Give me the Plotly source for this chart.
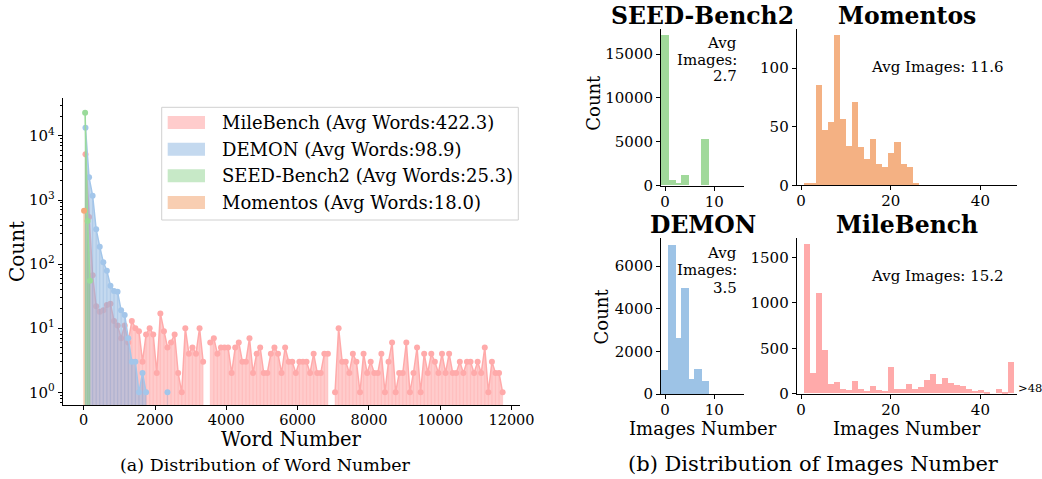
import plotly.graph_objects as go

W, H = 1042, 479
FONT = "DejaVu Serif"

# ---------------- (a) distribution of word number ----------------
WORD_BIN_CENTERS = list(range(50, 11800, 100))  # 118 bins, 100 words wide
MILE_COUNTS = [5160, 543, 67, 22, 18, 19, 23, 24, 13, 11,
               7, 11, 6, 13, 10, 9, 3, 8, 10, 8,
               2, 17, 9, 5, 6, 8, 2, 1, 10, 4,
               5, 4, 10, 3, 0,
               6, 7, 4, 5, 5, 5, 2, 5, 6, 3,
               3, 7, 2, 4, 5, 2, 2, 4, 5, 4,
               2, 5, 3, 3, 2, 3, 3, 3, 2, 4,
               2, 2, 4, 4, 0,
               1, 10, 3, 3, 2, 4, 3,
               1, 4, 2, 3, 2, 2, 4, 1, 3, 6,
               1, 2, 2, 6, 1, 2, 5, 1, 4, 2,
               4, 3, 2, 4, 2, 4, 2, 2, 3, 2,
               3, 3, 2, 3, 2, 5, 1, 3, 2, 2, 1]
DEMON_COUNTS = [13400, 2260, 1167, 349, 187, 107, 79, 46, 38, 37,
                19, 16, 7, 3, 3, 1, 2, 1, 0, 0, 0, 0, 0, 1]
SEED_WORDS = [40, 110, 175]
SEED_COUNTS = [23000, 470, 55]
MOM_WORDS = [10]
MOM_COUNTS = [683]

LEGEND_LABELS = ["MileBench (Avg Words:422.3)", "DEMON (Avg Words:98.9)",
                 "SEED-Bench2 (Avg Words:25.3)", "Momentos (Avg Words:18.0)"]

X_TICKS_WORDS = [0, 2000, 4000, 6000, 8000, 10000, 12000]
LOG_EXPONENTS = [0, 1, 2, 3, 4]

# ---------------- (b) distribution of images number ----------------
SEED_IMG_LEFT = [-0.8, 0.8, 2.2, 3.2, 7.3]
SEED_IMG_RIGHT = [0.8, 2.2, 3.2, 4.8, 8.9]
SEED_IMG_COUNTS = [17100, 650, 230, 1220, 5320]

DEMON_IMG_LEFT = [-0.8, 0.55, 2.2, 3.25, 4.85, 5.95, 7.45]
DEMON_IMG_RIGHT = [0.55, 2.2, 3.25, 4.85, 5.95, 7.45, 8.9]
DEMON_IMG_COUNTS = [1125, 6985, 2625, 4970, 703, 1172, 578]

MOM_IMG_EDGE0, MOM_IMG_BW = 0.52, 1.35
MOM_IMG_COUNTS = [2, 2, 85, 47, 54, 128, 56, 33, 71, 32,
                  22, 39, 18, 15, 27, 37, 18, 15, 1]

MILE_IMG_EDGE0, MILE_IMG_BW = 0.67, 1.333
MILE_IMG_COUNTS = [1640, 228, 1100, 482, 99, 129, 51, 33, 140, 51,
                   29, 77, 40, 29, 294, 51, 51, 107, 51, 66,
                   151, 217, 107, 173, 110, 88, 77, 44, 26, 40,
                   18, 0, 51, 18, 349]

AVG_IMAGES = {"SEED-Bench2": "2.7", "Momentos": "11.6", "DEMON": "3.5", "MileBench": "15.2"}

# ---------------- styles ----------------
C_LINE = {"mile": "#FFAAAA", "demon": "#A3C6EA", "seed": "#9ADB9A", "mom": "#F5A97A"}
C_FILL = {"mile": "rgba(255,153,153,0.5)", "demon": "rgba(138,180,224,0.5)",
          "seed": "rgba(144,211,144,0.5)", "mom": "rgba(241,157,101,0.5)"}
C_VLINE = {"mile": "rgba(255,140,140,0.22)", "demon": "rgba(120,165,215,0.25)",
           "seed": "rgba(120,200,120,0.3)", "mom": "rgba(240,150,90,0.6)"}
C_BAR = {"seed": "#A1D99B", "mom": "#F4B183", "demon": "#9DC3E6", "mile": "#FFAAAA"}


def px(x):
    return x / W


def py(y):
    return 1 - y / H


fig = go.Figure()

Y_BASE = 0.3  # below the visible log range; clipped by the plot area


def add_word_series(xs, ys, key):
    segs, cur = [], []
    for x, y in zip(xs, ys):
        if y > 0:
            cur.append((x, y))
        elif cur:
            segs.append(cur)
            cur = []
    if cur:
        segs.append(cur)
    fx, fy = [], []
    for s in segs:
        if len(s) < 2:
            continue
        fx += [p[0] for p in s] + [s[-1][0], s[0][0], None]
        fy += [p[1] for p in s] + [Y_BASE, Y_BASE, None]
    if fx:
        fig.add_trace(go.Scatter(x=fx, y=fy, mode="none", fill="toself",
                                 fillcolor=C_FILL[key], hoverinfo="skip",
                                 showlegend=False, xaxis="x", yaxis="y"))
    vx, vy = [], []
    for x, y in zip(xs, ys):
        if y > 0:
            vx += [x, x, None]
            vy += [y, Y_BASE, None]
    fig.add_trace(go.Scatter(x=vx, y=vy, mode="lines",
                             line=dict(color=C_VLINE[key], width=1.2),
                             hoverinfo="skip", showlegend=False, xaxis="x", yaxis="y"))
    fig.add_trace(go.Scatter(x=xs, y=[y if y > 0 else None for y in ys],
                             mode="lines+markers", connectgaps=False,
                             line=dict(color=C_LINE[key], width=1.5),
                             marker=dict(color=C_LINE[key], size=6),
                             showlegend=False, xaxis="x", yaxis="y"))


add_word_series(WORD_BIN_CENTERS, MILE_COUNTS, "mile")
add_word_series(WORD_BIN_CENTERS[:len(DEMON_COUNTS)], DEMON_COUNTS, "demon")
add_word_series(SEED_WORDS, SEED_COUNTS, "seed")
add_word_series(MOM_WORDS, MOM_COUNTS, "mom")


def add_bars(lefts, rights, counts, key, ax):
    xs = [(l + r) / 2 for l, r in zip(lefts, rights)]
    ws = [r - l for l, r in zip(lefts, rights)]
    fig.add_trace(go.Bar(x=xs, y=counts, width=ws, marker=dict(color=C_BAR[key], line=dict(width=0)),
                         showlegend=False, xaxis="x" + ax, yaxis="y" + ax))


add_bars(SEED_IMG_LEFT, SEED_IMG_RIGHT, SEED_IMG_COUNTS, "seed", "2")
mom_l = [MOM_IMG_EDGE0 + i * MOM_IMG_BW for i in range(len(MOM_IMG_COUNTS))]
add_bars(mom_l, [l + MOM_IMG_BW for l in mom_l], MOM_IMG_COUNTS, "mom", "3")
add_bars(DEMON_IMG_LEFT, DEMON_IMG_RIGHT, DEMON_IMG_COUNTS, "demon", "4")
mile_l = [MILE_IMG_EDGE0 + i * MILE_IMG_BW for i in range(len(MILE_IMG_COUNTS))]
add_bars(mile_l, [l + MILE_IMG_BW for l in mile_l], MILE_IMG_COUNTS, "mile", "5")

axis_common = dict(showline=True, linecolor="black", linewidth=1, ticks="outside",
                   ticklen=4, tickwidth=1, tickcolor="black", showgrid=False,
                   zeroline=False, automargin=False)

fig.update_layout(
    xaxis=dict(domain=[px(62.7), px(520)], range=[-589, 12238], tickvals=X_TICKS_WORDS,
               tickformat="d", ticklabelstandoff=-3,
               tickfont=dict(size=14.5, family=FONT, color="black"),
               anchor="y", **axis_common),
    yaxis=dict(domain=[py(405.3), py(98.3)], type="log", range=[-0.203, 4.587],
               tickvals=[10 ** e for e in LOG_EXPONENTS],
               ticktext=["10<sup>%d</sup>" % e for e in LOG_EXPONENTS],
               minor=dict(ticks="outside", ticklen=2, tickcolor="black",
                          tickvals=[m * 10 ** e for e in range(-1, 5) for m in range(2, 10)]),
               tickfont=dict(size=15, family=FONT, color="black"), anchor="x", **axis_common),
)

rt = dict(size=15, family=FONT, color="black")
rx = dict(tickformat="d", tickfont=rt, ticklabelstandoff=-2, **axis_common)
ry = dict(tickformat="d", tickfont=rt, **axis_common)
fig.update_layout(
    xaxis2=dict(domain=[px(661), px(744)], range=[-0.81, 16.0], tickvals=[0, 10], anchor="y2", **rx),
    yaxis2=dict(domain=[py(185.7), py(29.3)], range=[0, 17830], tickvals=[0, 5000, 10000, 15000],
                anchor="x2", **ry),
    xaxis3=dict(domain=[px(796.7), px(1016.7)], range=[-0.96, 48.1], tickvals=[0, 20, 40],
                anchor="y3", **rx),
    yaxis3=dict(domain=[py(185.3), py(29.3)], range=[0, 133], tickvals=[0, 50, 100],
                anchor="x3", **ry),
    xaxis4=dict(domain=[px(661), px(744)], range=[-0.81, 16.0], tickvals=[0, 10], anchor="y4", **rx),
    yaxis4=dict(domain=[py(394), py(238.3)], range=[0, 7300], tickvals=[0, 2000, 4000, 6000],
                anchor="x4", **ry),
    xaxis5=dict(domain=[px(796.7), px(1016.7)], range=[-0.96, 48.1], tickvals=[0, 20, 40],
                anchor="y5", **rx),
    yaxis5=dict(domain=[py(393.7), py(238.3)], range=[0, 1711], tickvals=[0, 500, 1000, 1500],
                anchor="x5", **ry),
    bargap=0,
)

shapes = []
annotations = []


def txt(x, y, text, size, xanchor="center", yanchor="middle", bold=False, angle=0):
    if bold:
        text = "<b>%s</b>" % text
    annotations.append(dict(x=px(x), y=py(y), xref="paper", yref="paper", text=text,
                            showarrow=False, xanchor=xanchor, yanchor=yanchor, textangle=angle,
                            font=dict(size=size, family=FONT, color="black")))


shapes.append(dict(type="rect", xref="paper", yref="paper", x0=px(161.7), x1=px(518.3),
                   y0=py(220), y1=py(107.3), line=dict(color="#d0d0d0", width=1),
                   fillcolor="rgba(255,255,255,0.8)", layer="above"))
legend_rows = [122.5, 149.2, 175.7, 202.5]
for label, key, yc in zip(LEGEND_LABELS, ["mile", "demon", "seed", "mom"], legend_rows):
    shapes.append(dict(type="rect", xref="paper", yref="paper", x0=px(167.7), x1=px(205),
                       y0=py(yc + 6.5), y1=py(yc - 6.5), line=dict(width=0),
                       fillcolor=C_FILL[key], layer="above"))
    txt(220, yc, label, 18, xanchor="left")

txt(17, 252, "Count", 20, angle=-90)
txt(291, 439, "Word Number", 19.5)
txt(265, 465, "(a) Distribution of Word Number", 17.5)

txt(702.5, 16, "SEED-Bench2", 23.5, bold=True)
txt(906.7, 16, "Momentos", 23.5, bold=True)
txt(702.5, 225, "DEMON", 23.5, bold=True)
txt(906.7, 225, "MileBench", 23.5, bold=True)
txt(592.7, 103, "Count", 18, angle=-90)
txt(601.7, 316.7, "Count", 18, angle=-90)
txt(702.5, 428.5, "Images Number", 18)
txt(906.7, 428.5, "Images Number", 18)
txt(813, 464, "(b) Distribution of Images Number", 21)

for yc, t in zip([43.5, 60, 76], ["Avg", "Images:", AVG_IMAGES["SEED-Bench2"]]):
    txt(739, yc, t, 15, xanchor="right")
for yc, t in zip([252.5, 270, 288], ["Avg", "Images:", AVG_IMAGES["DEMON"]]):
    txt(739, yc, t, 15, xanchor="right")
txt(937, 67, "Avg Images: " + AVG_IMAGES["Momentos"], 15)
txt(937, 276, "Avg Images: " + AVG_IMAGES["MileBench"], 15)
txt(1016, 388, ">48", 11.5, xanchor="left")

fig.update_layout(shapes=shapes, annotations=annotations, width=W, height=H, autosize=False,
                  margin=dict(l=0, r=0, t=0, b=0, pad=0), plot_bgcolor="white", paper_bgcolor="white",
                  font=dict(family=FONT, color="black"), showlegend=False)

fig.write_html("out.html", config={"displayModeBar": False},
               post_script="document.body.style.margin='0px';document.body.style.overflow='hidden';")
